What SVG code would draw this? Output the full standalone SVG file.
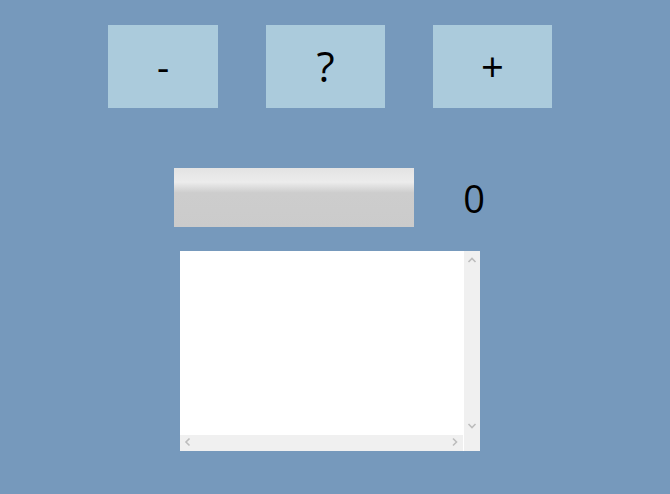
<svg xmlns="http://www.w3.org/2000/svg" width="670" height="494" viewBox="0 0 670 494">
<defs>
<style>
.btn{fill:#abcbdc}
.lbl{font-family:"Open Sans","DejaVu Sans",sans-serif;fill:#000;text-anchor:middle}
.chev{fill:none;stroke:#bdbdbd;stroke-width:1.6}
</style>
<linearGradient id="pg" x1="0" y1="0" x2="0" y2="1">
<stop offset="0" stop-color="#e3e3e3"/>
<stop offset="0.24" stop-color="#ececec"/>
<stop offset="0.42" stop-color="#cdcdcd"/>
<stop offset="1" stop-color="#cbcbcb"/>
</linearGradient>
</defs>
<rect width="670" height="494" fill="#7699bc"/>
<g id="btn-minus"><rect class="btn" x="108" y="25" width="110" height="83"/><text class="lbl" x="163" y="81" font-size="38">-</text></g>
<g id="btn-query"><rect class="btn" x="266" y="25" width="119" height="83"/><text class="lbl" x="325.5" y="82" font-size="42">?</text></g>
<g id="btn-plus"><rect class="btn" x="433" y="25" width="119" height="83"/><text class="lbl" x="492.5" y="82" font-size="40">+</text></g>
<g id="progress"><rect x="174" y="168" width="240" height="59" fill="url(#pg)"/></g>
<g id="value"><text class="lbl" x="474" y="213" font-size="38">0</text></g>
<g id="textbox">
<rect x="180" y="251" width="300" height="200" fill="#fff"/>
<rect x="464" y="251" width="16" height="200" fill="#f0f0f0"/>
<rect x="180" y="435" width="283" height="16" fill="#f0f0f0"/>
<polyline class="chev" points="468.5,262 472,258.5 475.5,262"/>
<polyline class="chev" points="468.5,424 472,427.5 475.5,424"/>
<polyline class="chev" points="189.5,438.5 186,442 189.5,445.5"/>
<polyline class="chev" points="453,438.5 456.5,442 453,445.5"/>
</g>
</svg>
